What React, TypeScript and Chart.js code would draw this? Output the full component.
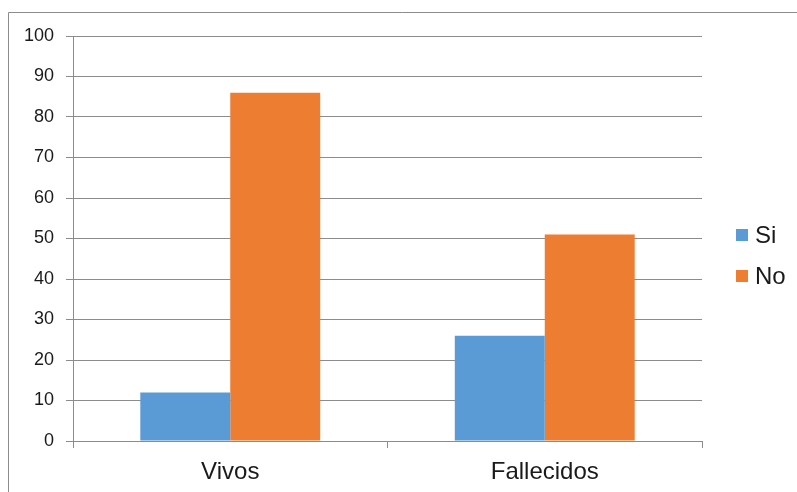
import React, { useEffect, useRef } from "react";
import { Chart, registerables } from "chart.js";

Chart.register(...registerables);

const categories = ["Vivos", "Fallecidos"];
const seriesNames = ["Si", "No"];
const siValues = [12, 26];
const noValues = [86, 51];
const yTicks = [0, 10, 20, 30, 40, 50, 60, 70, 80, 90, 100];

const BLUE = "#5B9BD5";
const ORANGE = "#ED7D31";
const GRID = "#8C8C8C";
const FONT = "'Liberation Sans', Arial, sans-serif";

export default function App() {
  const ref = useRef<HTMLCanvasElement | null>(null);

  useEffect(() => {
    if (!ref.current) return;
    const framePlugin = {
      id: "frame",
      beforeDraw(chart: any) {
        const ctx = chart.ctx;
        ctx.save();
        ctx.strokeStyle = GRID;
        ctx.lineWidth = 1;
        ctx.beginPath();
        ctx.moveTo(8.5, chart.height);
        ctx.lineTo(8.5, 12.5);
        ctx.lineTo(chart.width, 12.5);
        ctx.stroke();
        ctx.restore();
      },
    };
    const legendPlugin = {
      id: "customLegend",
      afterDraw(chart: any) {
        const ctx = chart.ctx;
        const ds = chart.data.datasets;
        const x0 = chart.chartArea.right + 34;
        const yStart = 235;
        const gap = 41;
        ctx.save();
        ctx.font = `24px ${FONT}`;
        ctx.textBaseline = "middle";
        ds.forEach((d: any, i: number) => {
          const cy = yStart + i * gap;
          ctx.fillStyle = d.backgroundColor;
          ctx.fillRect(x0, cy - 6, 12, 12);
          ctx.fillStyle = "#1a1a1a";
          ctx.fillText(d.label, x0 + 19, cy + 1);
        });
        ctx.restore();
      },
    };
    const chart = new Chart(ref.current, {
      type: "bar",
      data: {
        labels: categories,
        datasets: [
          { label: seriesNames[0], data: siValues, backgroundColor: BLUE },
          { label: seriesNames[1], data: noValues, backgroundColor: ORANGE },
        ],
      },
      options: {
        responsive: false,
        animation: false,
        layout: { padding: { top: 36, right: 95, left: 0, bottom: 0 } },
        datasets: {
          bar: { categoryPercentage: 0.572, barPercentage: 1.0 },
        } as any,
        plugins: {
          legend: { display: false },
          tooltip: { enabled: false },
        },
        scales: {
          x: {
            grid: {
              display: true,
              drawOnChartArea: false,
              drawTicks: true,
              tickLength: 7,
              color: GRID,
              offset: true,
            },
            border: { display: true, color: GRID },
            ticks: {
              color: "#1a1a1a",
              font: { family: FONT, size: 24 },
              padding: 10,
            },
            afterFit(scale: any) {
              scale.height = 51;
            },
          },
          y: {
            min: 0,
            max: 100,
            afterBuildTicks(scale: any) {
              scale.ticks = yTicks.map((v) => ({ value: v }));
            },
            grid: {
              color: GRID,
              drawTicks: true,
              tickLength: 7,
            },
            border: { display: true, color: GRID },
            ticks: {
              color: "#1a1a1a",
              font: { family: FONT, size: 18 },
              padding: 12,
            },
            afterFit(scale: any) {
              scale.width = 73;
            },
          },
        },
      },
      plugins: [framePlugin, legendPlugin],
    });
    return () => chart.destroy();
  }, []);

  return (
    <div
      style={{
        position: "fixed",
        left: 0,
        top: 0,
        width: 797,
        height: 492,
        background: "#fff",
      }}
    >
      <canvas ref={ref} width={797} height={492} style={{ display: "block" }} />
    </div>
  );
}
